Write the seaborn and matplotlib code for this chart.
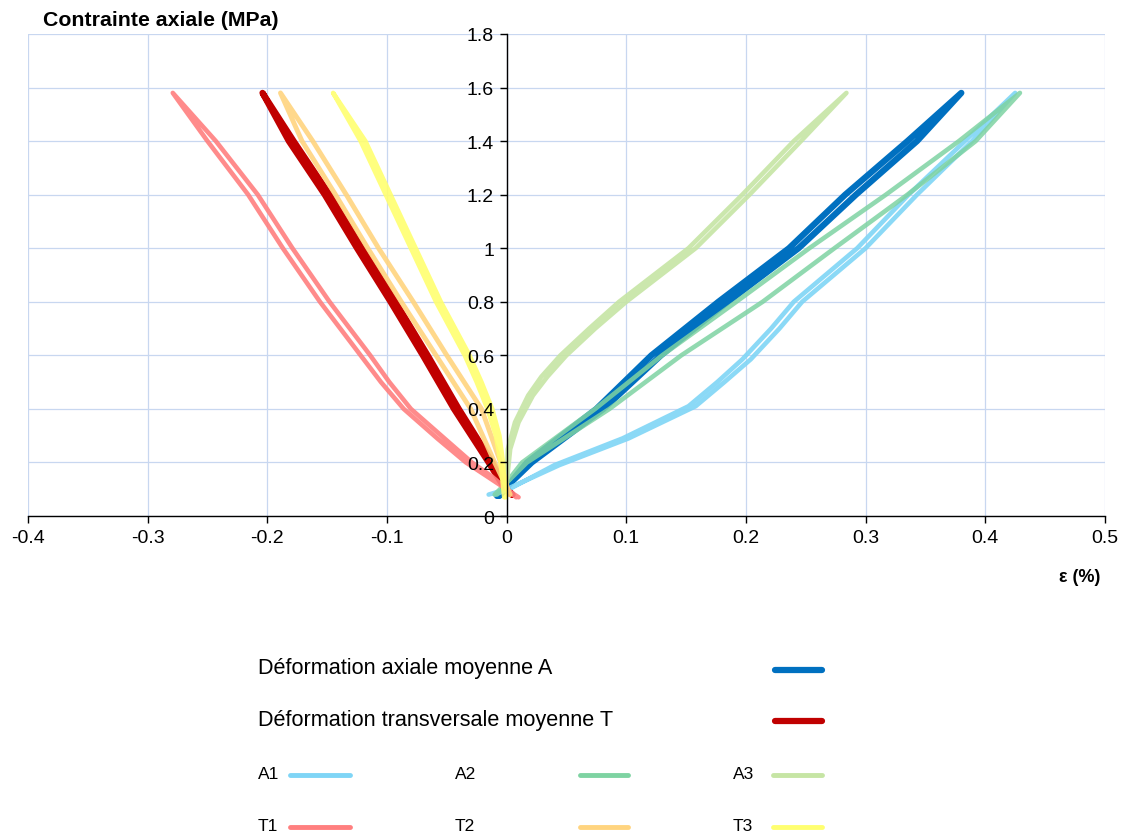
import matplotlib
matplotlib.use("Agg")
import matplotlib.pyplot as plt
from matplotlib.lines import Line2D
from matplotlib.ticker import FuncFormatter
import numpy as np
import pandas as pd
import seaborn as sns

# Stress (MPa) / strain (%) readings, loading and unloading branches
A1_sig = [0.08, 0.10, 0.19, 0.29, 0.41, 0.50, 0.585, 0.70, 0.80, 1.00, 1.20, 1.40, 1.58]
A1_load = [-0.015, 0.000, 0.044, 0.102, 0.158, 0.182, 0.204, 0.228, 0.247, 0.300, 0.343, 0.389, 0.425]
A1_unload = [-0.010, 0.002, 0.040, 0.097, 0.152, 0.176, 0.197, 0.221, 0.240, 0.293, 0.336, 0.383, 0.425]

A2_sig = [0.08, 0.20, 0.40, 0.60, 0.80, 1.00, 1.20, 1.40, 1.58]
A2_load = [-0.010, 0.017, 0.086, 0.146, 0.214, 0.274, 0.335, 0.392, 0.429]
A2_unload = [-0.008, 0.013, 0.074, 0.130, 0.192, 0.253, 0.317, 0.378, 0.429]

A3_sig = [0.12, 0.25, 0.35, 0.45, 0.52, 0.60, 0.70, 0.80, 1.00, 1.20, 1.40, 1.58]
A3_load = [0.000, 0.003, 0.010, 0.022, 0.034, 0.050, 0.074, 0.100, 0.158, 0.203, 0.246, 0.284]
A3_unload = [0.000, 0.001, 0.007, 0.018, 0.029, 0.045, 0.069, 0.094, 0.152, 0.197, 0.240, 0.284]

A_sig = [0.075, 0.20, 0.40, 0.60, 0.80, 1.00, 1.20, 1.40, 1.58]
A_load = [-0.008, 0.021, 0.081, 0.129, 0.185, 0.244, 0.292, 0.343, 0.380]
A_unload = [-0.006, 0.017, 0.075, 0.121, 0.177, 0.236, 0.283, 0.335, 0.380]

T1_sig = [0.07, 0.15, 0.20, 0.29, 0.40, 0.50, 0.60, 0.80, 1.00, 1.20, 1.40, 1.58]
T1_load = [0.010, -0.017, -0.034, -0.058, -0.086, -0.105, -0.122, -0.156, -0.187, -0.216, -0.250, -0.279]
T1_unload = [0.008, -0.013, -0.029, -0.052, -0.080, -0.098, -0.114, -0.148, -0.179, -0.208, -0.243, -0.279]

T2_sig = [0.08, 0.20, 0.40, 0.60, 0.80, 1.00, 1.20, 1.40, 1.58]
T2_load = [0.003, -0.010, -0.030, -0.059, -0.088, -0.116, -0.143, -0.171, -0.189]
T2_unload = [0.002, -0.005, -0.021, -0.050, -0.078, -0.107, -0.134, -0.162, -0.189]

T3_sig = [0.07, 0.20, 0.30, 0.40, 0.50, 0.60, 0.80, 1.00, 1.20, 1.40, 1.58]
T3_load = [-0.002, -0.005, -0.009, -0.016, -0.025, -0.035, -0.059, -0.080, -0.101, -0.122, -0.145]
T3_unload = [-0.001, -0.003, -0.006, -0.012, -0.021, -0.031, -0.055, -0.076, -0.097, -0.118, -0.145]

T_sig = [0.08, 0.12, 0.20, 0.40, 0.60, 0.80, 1.00, 1.20, 1.40, 1.58]
T_load = [0.005, -0.004, -0.015, -0.044, -0.070, -0.097, -0.125, -0.152, -0.182, -0.204]
T_unload = [0.004, -0.003, -0.012, -0.040, -0.066, -0.093, -0.121, -0.148, -0.178, -0.204]

X_TICKS = [-0.4, -0.3, -0.2, -0.1, 0, 0.1, 0.2, 0.3, 0.4, 0.5]
Y_TICKS = [0, 0.2, 0.4, 0.6, 0.8, 1.0, 1.2, 1.4, 1.6, 1.8]

COLORS = {
    "A": "#0070c0", "T": "#c00000",
    "A1": "#7fd5f6", "A2": "#7ed3a2", "A3": "#c6e5a4",
    "T1": "#ff7f7f", "T2": "#ffd47f", "T3": "#ffff70",
}

sns.set_style("white")
plt.rcParams["font.family"] = ["Liberation Sans", "DejaVu Sans"]
plt.rcParams["text.color"] = "black"
plt.rcParams["xtick.color"] = "black"
plt.rcParams["ytick.color"] = "black"


def loop(sig, load, unload):
    """Loading branch up, unloading branch back down."""
    eps = list(load) + list(unload[::-1])
    s = list(sig) + list(sig[::-1])
    return pd.DataFrame({"eps": eps, "sig": s, "order": np.arange(len(s))})


fig = plt.figure(figsize=(11.24, 8.37), dpi=100)
ax = fig.add_axes([0.0249, 0.3823, 0.9581, 0.5759])

# light blue grid, drawn under the curves (tick labels stay on top)
for xv in X_TICKS:
    ax.axvline(xv, color="#c8d7f0", lw=0.9, zorder=0.5)
for yv in Y_TICKS:
    ax.axhline(yv, color="#c8d7f0", lw=0.9, zorder=0.5)

series = [
    ("A", A_sig, A_load, A_unload, 4.5, 1.0),
    ("T", T_sig, T_load, T_unload, 4.5, 1.0),
    ("A1", A1_sig, A1_load, A1_unload, 3.3, 0.9),
    ("A2", A2_sig, A2_load, A2_unload, 3.3, 0.85),
    ("A3", A3_sig, A3_load, A3_unload, 3.3, 0.9),
    ("T1", T1_sig, T1_load, T1_unload, 3.3, 0.9),
    ("T2", T2_sig, T2_load, T2_unload, 3.5, 0.9),
    ("T3", T3_sig, T3_load, T3_unload, 3.3, 0.9),
]
for name, sig, ld, ul, lw, al in series:
    df = loop(sig, ld, ul)
    sns.lineplot(data=df, x="eps", y="sig", sort=False, estimator=None,
                 color=COLORS[name], lw=lw, alpha=al, ax=ax, zorder=2,
                 solid_joinstyle="round", solid_capstyle="round")

ax.set_xlim(-0.4, 0.5)
ax.set_ylim(0, 1.8)
ax.set_xticks(X_TICKS)
ax.set_yticks(Y_TICKS)
fmt = FuncFormatter(lambda v, p: f"{round(v, 2):g}")
ax.xaxis.set_major_formatter(fmt)
ax.yaxis.set_major_formatter(fmt)
ax.grid(False)
ax.set_axisbelow(False)
ax.set_xlabel("")
ax.set_ylabel("")

ax.spines["left"].set_position(("data", 0))
ax.spines["bottom"].set_position(("data", 0))
ax.spines["top"].set_visible(False)
ax.spines["right"].set_visible(False)
for sp in ("left", "bottom"):
    ax.spines[sp].set_color("black")
    ax.spines[sp].set_linewidth(1.0)
    ax.spines[sp].set_zorder(5)
ax.tick_params(axis="both", direction="out", length=5, width=1, color="black",
               labelcolor="black", labelsize=14, pad=4, left=True, bottom=True)

fig.text(43 / 1124, 1 - 20 / 837, "Contrainte axiale (MPa)", fontsize=15.3,
         fontweight="bold", ha="left", va="center")
fig.text(1100 / 1124, 1 - 577 / 837, "ε (%)", fontsize=13,
         fontweight="bold", ha="right", va="center")


# legend laid out by hand, like the original
def px(x, y):
    return x / 1124, 1 - y / 837


def leg_line(x0, x1, y, color, lw):
    (a, b), (c, _) = px(x0, y), px(x1, y)
    fig.add_artist(Line2D([a, c], [b, b], transform=fig.transFigure,
                          color=color, lw=lw))


fig.text(*px(258, 669), "Déformation axiale moyenne A", fontsize=15.6,
         ha="left", va="center")
leg_line(775, 822, 671, COLORS["A"], 4.5)
fig.text(*px(258, 721), "Déformation transversale moyenne T", fontsize=15.6,
         ha="left", va="center")
leg_line(775, 822, 722, COLORS["T"], 4.5)

rows = [(775, ["A1", "A2", "A3"]), (827, ["T1", "T2", "T3"])]
cols = [(258, 290, 350), (455, 580, 628), (733, 773, 822)]
for y, names in rows:
    for name, (xt, x0, x1) in zip(names, cols):
        fig.text(*px(xt, y), name, fontsize=12.5, ha="left", va="center")
        leg_line(x0, x1, y + 1, COLORS[name], 3.5)

fig.savefig("out.png", dpi=100)
